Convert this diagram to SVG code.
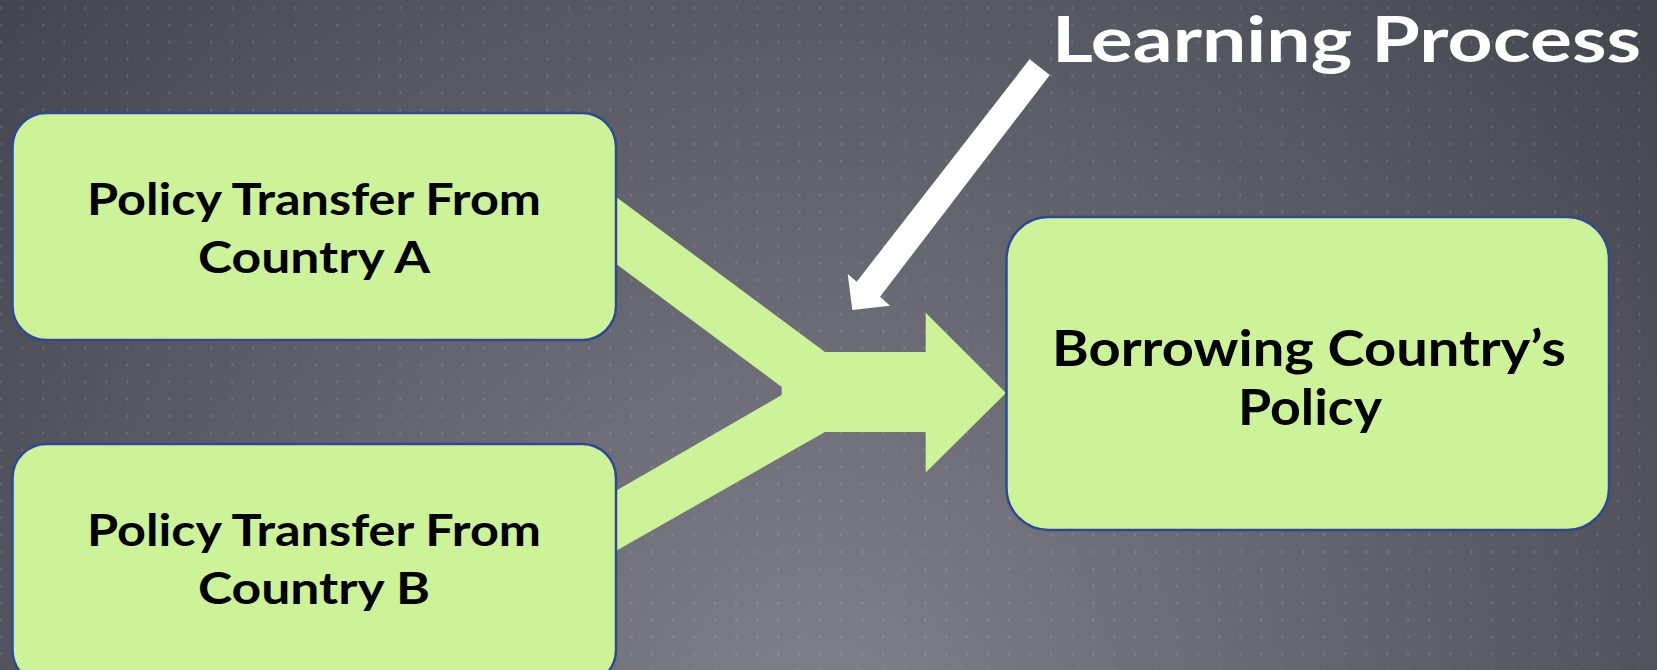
<svg xmlns="http://www.w3.org/2000/svg" width="1657" height="670" viewBox="0 0 1657 670">
  <defs>
    <radialGradient id="bg" gradientUnits="userSpaceOnUse" cx="820" cy="720" r="1100">
      <stop offset="0" stop-color="#81818b"/>
      <stop offset="1" stop-color="#44444f"/>
    </radialGradient>
    <pattern id="dots" patternUnits="userSpaceOnUse" x="0" y="0" width="21" height="17">
      <rect x="0.4" y="6.6" width="1.8" height="2.8" fill="#ffffff" fill-opacity="0.14"/>
    </pattern>
  </defs>
  <style>
    .box { fill: #ccf397; stroke: #2f4797; stroke-width: 2.5; }
    .lbl { font-family: Lato, "Liberation Sans", sans-serif; font-weight: bold; fill: #000000; text-anchor: middle; }
    .title { font-family: Lato, "Liberation Sans", sans-serif; font-weight: bold; fill: #ffffff; }
    .flow { fill: #ccf397; }
    .learn { fill: #ffffff; }
  </style>
  <rect x="0" y="0" width="1657" height="670" fill="url(#bg)"/>
  <rect x="0" y="0" width="1657" height="670" fill="url(#dots)"/>

  <g id="connectors">
    <polygon class="flow" points="600,185 825,352 925.7,352 925.7,312.7 1006,393 925.7,472.5 925.7,432 825,432 600,560 600,500 781.7,395 781.7,387 600,252"/>
    <polygon class="learn" points="1029.6,59.3 1049.8,75 880,296.7 890,305.7 852.3,310 847.7,274 856.7,281.7"/>
  </g>

  <g id="title">
    <text class="title" x="1052" y="62" font-size="63" textLength="589" lengthAdjust="spacingAndGlyphs">Learning Process</text>
  </g>

  <g id="nodeA">
    <rect class="box" x="12.5" y="113" width="603.5" height="227" rx="34" ry="34"/>
    <text class="lbl" x="314" y="215" font-size="44" textLength="454" lengthAdjust="spacingAndGlyphs">Policy Transfer From</text>
    <text class="lbl" x="314" y="273" font-size="44" textLength="232" lengthAdjust="spacingAndGlyphs">Country A</text>
  </g>

  <g id="nodeB">
    <rect class="box" x="12.5" y="444" width="603.5" height="240" rx="34" ry="34"/>
    <text class="lbl" x="314" y="546" font-size="44" textLength="454" lengthAdjust="spacingAndGlyphs">Policy Transfer From</text>
    <text class="lbl" x="314" y="604" font-size="44" textLength="232" lengthAdjust="spacingAndGlyphs">Country B</text>
  </g>

  <g id="nodeC">
    <rect class="box" x="1006.5" y="217" width="602.5" height="313" rx="42" ry="42"/>
    <text class="lbl" x="1309" y="366" font-size="49" textLength="514" lengthAdjust="spacingAndGlyphs">Borrowing Country’s</text>
    <text class="lbl" x="1310" y="425" font-size="49" textLength="144" lengthAdjust="spacingAndGlyphs">Policy</text>
  </g>
</svg>
